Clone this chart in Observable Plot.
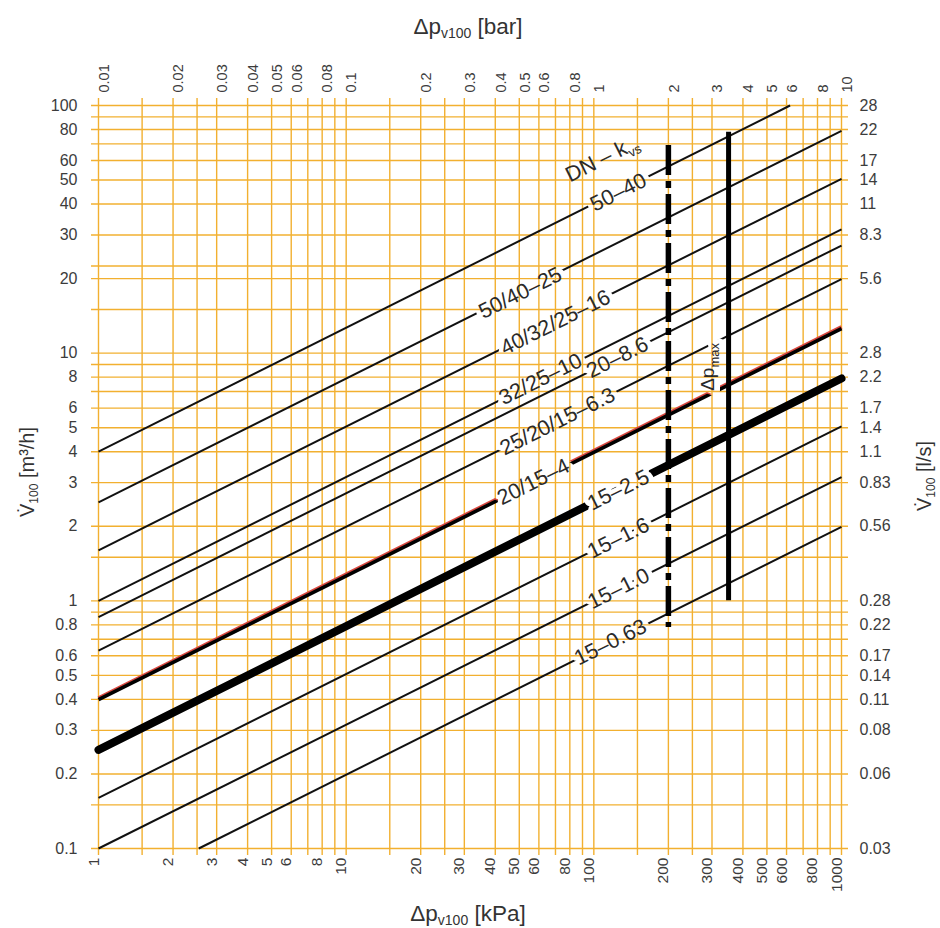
<!DOCTYPE html>
<html>
<head>
<meta charset="utf-8">
<script src="https://cdn.jsdelivr.net/npm/d3@7"></script>
<script src="https://cdn.jsdelivr.net/npm/@observablehq/plot@0.6"></script>
<style>
  html, body { margin: 0; padding: 0; background: #fff; }
  #chart { width: 940px; height: 928px; }
</style>
</head>
<body>
<div id="chart"></div>
<script>
// ---- data ----
const kvs = [40, 25, 16, 10, 8.6, 6.3, 4, 2.5, 1.6, 1.0, 0.63];
const dpStart = [1, 1, 1, 1, 1, 1, 1, 1, 1, 1, 2.54];
const flowStart = [4, 2.5, 1.6, 1.0, 0.86, 0.63, 0.4, 0.25, 0.16, 0.1, 0.1];
const dpEnd = [620, 1000, 1000, 1000, 1000, 1000, 1000, 1000, 1000, 1000, 1000];
const flowEnd = [100, 79, 50.6, 31.6, 27.2, 19.9, 12.6, 7.9, 5.06, 3.16, 1.99];

const labelTexts = ["DN – kvs", "50–40", "50/40–25", "40/32/25–16", "32/25–10", "20–8.6",
  "25/20/15–6.3", "20/15–4", "15–2.5", "15–1.6", "15–1.0", "15–0.63"];
const labelDp = [108, 125.7, 50.5, 70, 60.9, 124.5, 71.3, 57, 125.7, 125.7, 126, 116.7];
const labelFlow = [61, 44.6, 17.5, 13.3, 7.85, 9.6, 5.3, 3.02, 2.8, 1.79, 1.12, 0.68];

const limitDp = [200, 350];
const limitTop = [69, 78];
const limitBottom = [0.78, 1.0];
const dpMaxLabelDp = [290];
const dpMaxLabelFlow = [8.8];

const xGrid = [1, 1.5, 2, 2.5, 3, 4, 5, 6, 7, 8, 9, 10, 15, 20, 25, 30, 40, 50, 60, 70, 80, 90,
  100, 150, 200, 250, 300, 400, 500, 600, 700, 800, 900, 1000];
const yGrid = [0.1, 0.15, 0.2, 0.3, 0.4, 0.5, 0.6, 0.7, 0.8, 0.9, 1, 1.5, 2, 3, 4, 5, 6, 7, 8, 9,
  10, 15, 20, 22.5, 30, 40, 50, 60, 70, 80, 90, 100];

const kPaTicks = [1, 2, 3, 4, 5, 6, 8, 10, 20, 30, 40, 50, 60, 80, 100, 200, 300, 400, 500, 600, 800, 1000];
const kPaLabels = ["1", "2", "3", "4", "5", "6", "8", "10", "20", "30", "40", "50", "60", "80", "100",
  "200", "300", "400", "500", "600", "800", "1000"];
const barLabels = ["0.01", "0.02", "0.03", "0.04", "0.05", "0.06", "0.08", "0.1", "0.2", "0.3", "0.4",
  "0.5", "0.6", "0.8", "1", "2", "3", "4", "5", "6", "8", "10"];
const flowTicks = [100, 80, 60, 50, 40, 30, 20, 10, 8, 6, 5, 4, 3, 2, 1, 0.8, 0.6, 0.5, 0.4, 0.3, 0.2, 0.1];
const m3hLabels = ["100", "80", "60", "50", "40", "30", "20", "10", "8", "6", "5", "4", "3", "2", "1",
  "0.8", "0.6", "0.5", "0.4", "0.3", "0.2", "0.1"];
const lsLabels = ["28", "22", "17", "14", "11", "8.3", "5.6", "2.8", "2.2", "1.7", "1.4", "1.1", "0.83",
  "0.56", "0.28", "0.22", "0.17", "0.14", "0.11", "0.08", "0.06", "0.03"];

// ---- build ----
const W = 940, H = 928;
const gridColor = "#f2b030";
const tickColor = "#3c3c3c";
const idx = kvs.map((_, i) => i);
const thin = idx.filter(i => kvs[i] !== 4 && kvs[i] !== 2.5);
const red = idx.filter(i => kvs[i] === 4);
const heavy = idx.filter(i => kvs[i] === 2.5);
const lineOpts = {
  x1: i => dpStart[i], y1: i => flowStart[i], x2: i => dpEnd[i], y2: i => flowEnd[i]
};
const ti = kPaTicks.map((_, i) => i);
const fi = flowTicks.map((_, i) => i);
const li = labelTexts.map((_, i) => i);
const ri = limitDp.map((_, i) => i);

const plot = Plot.plot({
  width: W, height: H,
  marginLeft: 98, marginRight: 99, marginTop: 105, marginBottom: 80,
  x: {type: "log", domain: [1, 1000], axis: null},
  y: {type: "log", domain: [0.1, 100], axis: null},
  style: {fontFamily: "'Liberation Sans', Arial, sans-serif", background: "#fff", overflow: "visible"},
  marks: [
    Plot.ruleX(xGrid, {x: d => d, stroke: gridColor, strokeWidth: 1.4, insetTop: -7, insetBottom: -7}),
    Plot.ruleY(yGrid, {y: d => d, stroke: gridColor, strokeWidth: 1.4, insetLeft: -7, insetRight: -7}),
    // kvs lines
    Plot.link(thin, {...lineOpts, stroke: "#111", strokeWidth: 2, ariaDescription: "kv-lines"}),
    Plot.link(red, {...lineOpts, stroke: "#d8473f", strokeWidth: 4, dy: -1.2, ariaDescription: "kv-lines"}),
    Plot.link(red, {...lineOpts, stroke: "#000", strokeWidth: 3.6, dy: 0.3, ariaDescription: "kv-lines"}),
    Plot.link(heavy, {...lineOpts, stroke: "#000", strokeWidth: 8, strokeLinecap: "round", ariaDescription: "kv-lines"}),
    // limit lines
    Plot.ruleX(ri.slice(0, 1), {x: i => limitDp[i], y1: i => limitTop[i], y2: i => limitBottom[i],
      stroke: "#000", strokeWidth: 5.5, strokeDasharray: "30,6,7,6"}),
    Plot.ruleX(ri.slice(1), {x: i => limitDp[i], y1: i => limitTop[i], y2: i => limitBottom[i],
      stroke: "#000", strokeWidth: 5}),
    // line labels
    Plot.text(li, {x: i => labelDp[i], y: i => labelFlow[i], text: i => labelTexts[i],
      rotate: -26.57, fontSize: 21.5, fill: "#2a2a2a", ariaDescription: "kv-labels"}),
    Plot.text([0], {x: i => dpMaxLabelDp[i], y: i => dpMaxLabelFlow[i], text: () => "Δpmax",
      rotate: -90, fontSize: 19, fill: "#2a2a2a", ariaDescription: "kv-labels"}),
    // tick labels
    Plot.text(ti, {x: i => kPaTicks[i], text: i => kPaLabels[i], frameAnchor: "bottom", dy: 9,
      rotate: -90, textAnchor: "end", fontSize: 15.5, fill: tickColor}),
    Plot.text(ti, {x: i => kPaTicks[i], text: i => barLabels[i], frameAnchor: "top", dy: -13,
      rotate: -90, textAnchor: "start", fontSize: 14.5, fill: tickColor}),
    Plot.text(fi, {y: i => flowTicks[i], text: i => m3hLabels[i], frameAnchor: "left", dx: -21,
      textAnchor: "end", fontSize: 16, fill: tickColor}),
    Plot.text(fi, {y: i => flowTicks[i], text: i => lsLabels[i], frameAnchor: "right", dx: 18,
      textAnchor: "start", fontSize: 16, fill: tickColor})
  ]
});

document.getElementById("chart").appendChild(plot);

// ---- post-processing: subscripts, line breaks under labels, axis titles ----
const svg = d3.select(plot);
function groupsByDesc(desc) {
  return svg.selectAll("g").filter(function () { return this.getAttribute("aria-description") === desc; });
}
let labelGroups = groupsByDesc("kv-labels");
if (labelGroups.empty()) {
  const set = new Set();
  svg.selectAll("text").each(function () {
    const t = this.textContent;
    if (labelTexts.includes(t) || t === "Δpmax") set.add(this.parentNode);
  });
  labelGroups = d3.selectAll(Array.from(set));
}
labelGroups.selectAll("text").each(function () {
  const el = d3.select(this);
  const t = this.textContent;
  if (t === "DN – kvs") {
    el.text("DN – k");
    el.append("tspan").attr("font-size", 13).attr("dy", 5).text("vs");
  } else if (t === "Δpmax") {
    el.text("Δp");
    el.append("tspan").attr("font-size", 13).attr("dy", 5).text("max");
  }
});

let lineGroups = groupsByDesc("kv-lines");
if (lineGroups.empty()) lineGroups = svg.selectAll("g[aria-label='link']");

const defs = svg.insert("defs", ":first-child");
const mask = defs.append("mask").attr("id", "lblmask").attr("maskUnits", "userSpaceOnUse")
  .attr("x", -50).attr("y", -50).attr("width", W + 100).attr("height", H + 100);
mask.append("rect").attr("x", -50).attr("y", -50).attr("width", W + 100).attr("height", H + 100).attr("fill", "#fff");
labelGroups.each(function () {
  const c = this.cloneNode(true);
  c.removeAttribute("aria-description");
  c.setAttribute("fill", "#000");
  c.setAttribute("stroke", "#000");
  c.setAttribute("stroke-width", "10");
  c.setAttribute("stroke-linejoin", "round");
  c.querySelectorAll("*").forEach(e => { e.removeAttribute("fill"); e.removeAttribute("stroke"); });
  mask.node().appendChild(c);
});
lineGroups.attr("mask", "url(#lblmask)");

// axis titles
const titleFont = "'Liberation Sans', Arial, sans-serif";
function title(x, y, rot, main, sub, rest, size) {
  const t = svg.append("text")
    .attr("transform", `translate(${x},${y}) rotate(${rot})`)
    .attr("text-anchor", "middle")
    .attr("font-family", titleFont)
    .attr("font-size", size)
    .attr("fill", "#333");
  t.append("tspan").text(main);
  t.append("tspan").attr("font-size", Math.round(size * 0.62)).attr("dy", 4).text(sub);
  t.append("tspan").attr("dy", -4).text(rest);
}
title(468, 34, 0, "Δp", "v100", " [bar]", 22.5);
title(468, 921, 0, "Δp", "v100", " [kPa]", 22.5);
title(34, 472, -90, "V\u0307", "100", " [m³/h]", 20);
title(931, 476, -90, "V\u0307", "100", " [l/s]", 20);
</script>
</body>
</html>
